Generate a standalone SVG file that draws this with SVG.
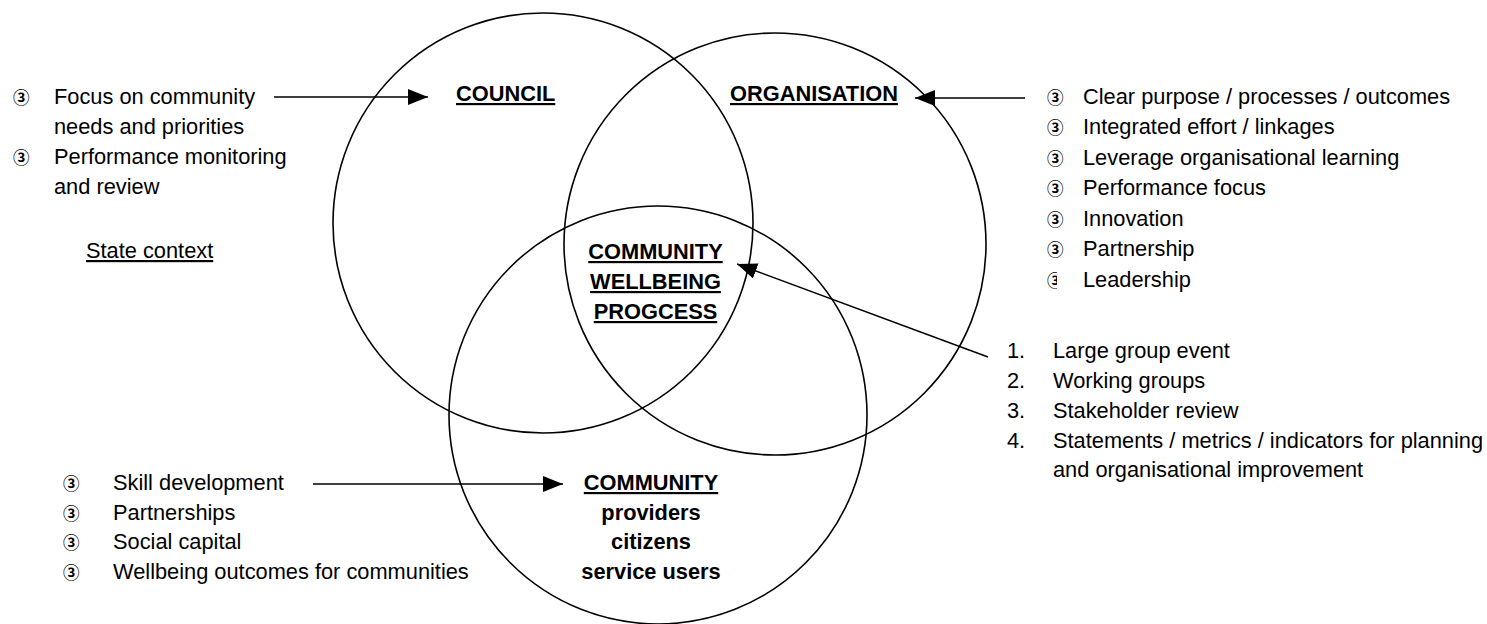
<svg xmlns="http://www.w3.org/2000/svg" width="1487" height="624" viewBox="0 0 1487 624">
<style>
  text { font-family: "Liberation Sans", Arial, Helvetica, sans-serif; font-size: 21.8px; fill: #000; }
  .b { font-weight: bold; }
  .u { text-decoration: underline; }
  .c { text-anchor: middle; }
  .bul { font-family: "Noto Sans CJK JP", "DejaVu Sans", sans-serif; font-size: 16.5px; font-weight: bold; }
  .ring { fill: none; stroke: #000; stroke-width: 1.6; }
  .conn { fill: none; stroke: #000; stroke-width: 1.6; }
</style>
<defs>
  <marker id="arrow" markerUnits="userSpaceOnUse" markerWidth="20" markerHeight="16" refX="20" refY="8" orient="auto">
    <path d="M0,0 L20,8 L0,16 z" fill="#000"/>
  </marker>
  <clipPath id="halfBullet">
    <rect x="1040" y="260" width="17" height="40"/>
  </clipPath>
</defs>
<rect width="1487" height="624" fill="#fff"/>

<g id="council">
  <circle class="ring" cx="543" cy="223" r="210"/>
  <text class="b u" x="456" y="101">COUNCIL</text>
</g>

<g id="organisation">
  <circle class="ring" cx="775" cy="244" r="211"/>
  <text class="b u" x="730" y="101">ORGANISATION</text>
</g>

<g id="community">
  <circle class="ring" cx="658" cy="415" r="209"/>
  <text class="b u c" x="651" y="490">COMMUNITY</text>
  <text class="b c" x="651" y="519.5">providers</text>
  <text class="b c" x="651" y="549">citizens</text>
  <text class="b c" x="651" y="578.5">service users</text>
</g>

<g id="wellbeing-process">
  <text class="b u c" x="655.5" y="259">COMMUNITY</text>
  <text class="b u c" x="655.5" y="289">WELLBEING</text>
  <text class="b u c" x="655.5" y="319">PROGCESS</text>
</g>

<g id="council-notes">
  <text class="bul" x="13" y="104">③</text>
  <text x="54" y="104">Focus on community</text>
  <text x="54" y="134">needs and priorities</text>
  <text class="bul" x="13" y="164">③</text>
  <text x="54" y="164">Performance monitoring</text>
  <text x="54" y="194">and review</text>
</g>

<g id="state-context">
  <text class="u" x="86" y="258">State context</text>
</g>

<g id="organisation-notes">
  <text class="bul" x="1047" y="103.5">③</text>
  <text x="1083" y="103.5">Clear purpose / processes / outcomes</text>
  <text class="bul" x="1047" y="134">③</text>
  <text x="1083" y="134">Integrated effort / linkages</text>
  <text class="bul" x="1047" y="164.5">③</text>
  <text x="1083" y="164.5">Leverage organisational learning</text>
  <text class="bul" x="1047" y="195">③</text>
  <text x="1083" y="195">Performance focus</text>
  <text class="bul" x="1047" y="225.5">③</text>
  <text x="1083" y="225.5">Innovation</text>
  <text class="bul" x="1047" y="256">③</text>
  <text x="1083" y="256">Partnership</text>
  <text class="bul" x="1047" y="286.5" clip-path="url(#halfBullet)">③</text>
  <text x="1083" y="286.5">Leadership</text>
</g>

<g id="process-steps">
  <text x="1007" y="358">1.</text>
  <text x="1053" y="358">Large group event</text>
  <text x="1007" y="388">2.</text>
  <text x="1053" y="388">Working groups</text>
  <text x="1007" y="418">3.</text>
  <text x="1053" y="418">Stakeholder review</text>
  <text x="1007" y="448">4.</text>
  <text x="1053" y="448">Statements / metrics / indicators for planning</text>
  <text x="1053" y="477">and organisational improvement</text>
</g>

<g id="community-notes">
  <text class="bul" x="63" y="490">③</text>
  <text x="113" y="490">Skill development</text>
  <text class="bul" x="63" y="519.5">③</text>
  <text x="113" y="519.5">Partnerships</text>
  <text class="bul" x="63" y="549">③</text>
  <text x="113" y="549">Social capital</text>
  <text class="bul" x="63" y="578.5">③</text>
  <text x="113" y="578.5">Wellbeing outcomes for communities</text>
</g>

<g id="connectors">
  <line class="conn" x1="274" y1="97" x2="428" y2="97" marker-end="url(#arrow)"/>
  <line class="conn" x1="1025" y1="98" x2="915" y2="98" marker-end="url(#arrow)"/>
  <line class="conn" x1="988" y1="357" x2="737" y2="264" marker-end="url(#arrow)"/>
  <line class="conn" x1="313" y1="484" x2="563" y2="484" marker-end="url(#arrow)"/>
</g>
</svg>
